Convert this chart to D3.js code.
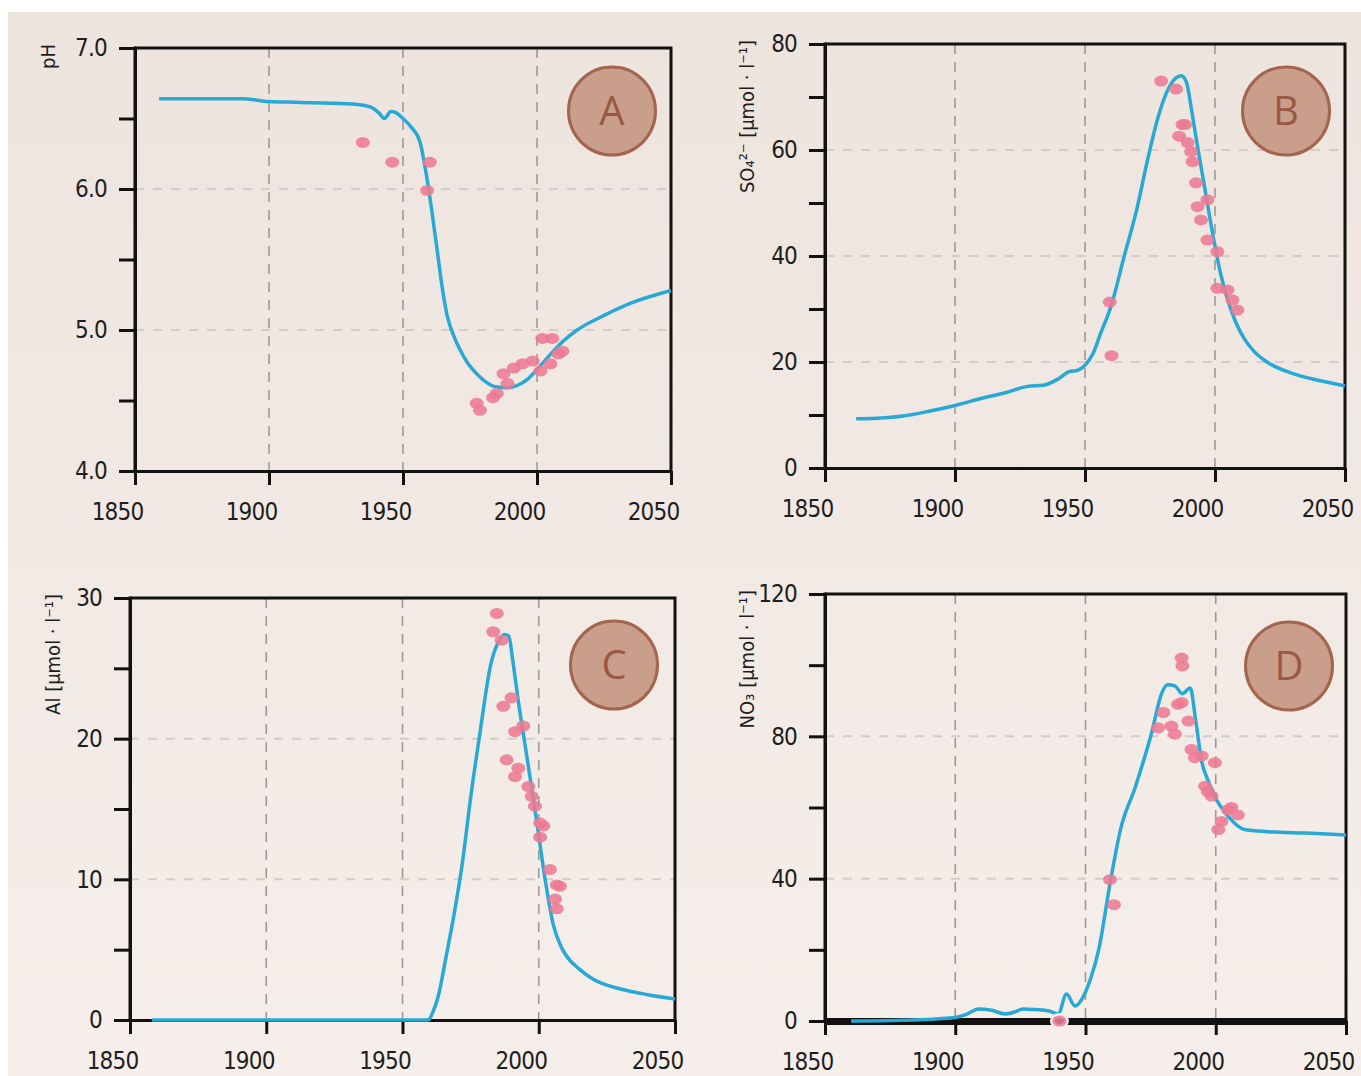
<!DOCTYPE html>
<html><head><meta charset="utf-8">
<script src="https://cdnjs.cloudflare.com/ajax/libs/d3/7.8.5/d3.min.js"></script>
<style>body{margin:0;background:#fff;}svg{display:block}</style>
</head><body>
<svg id="chart" width="1361" height="1076"></svg>
<script>
// ---------- data ----------
const xTickYears = [1850, 1900, 1950, 2000, 2050];
const gridYears = [1900, 1950, 2000];

// Panel A: pH
const phModel = [[1859,6.64],[1890,6.64],[1900,6.62],[1910,6.615],[1920,6.61],[1933,6.60],[1938,6.58],[1941,6.54],[1943,6.50],[1945.5,6.55],[1947.5,6.54],[1950,6.50],[1953,6.44],[1956.4,6.33],[1958,6.18],[1959.8,5.97],[1962.3,5.63],[1964.8,5.28],[1966.5,5.10],[1968.5,4.98],[1971,4.87],[1974,4.77],[1977.5,4.69],[1981,4.63],[1985,4.595],[1989,4.59],[1993,4.61],[1996.4,4.65],[2000,4.72],[2004.7,4.82],[2009.7,4.92],[2015,5.00],[2024.7,5.10],[2035,5.19],[2050,5.28]];
const phObs = [[1935,6.33],[1946,6.19],[1960,6.19],[1959,5.99],[1977.5,4.48],[1978.7,4.43],[1983.6,4.52],[1985,4.55],[1987.5,4.69],[1989,4.62],[1991.4,4.73],[1994.6,4.76],[1998.4,4.78],[2001.3,4.71],[2002,4.94],[2005.7,4.94],[2005,4.76],[2008,4.83],[2009.5,4.85]];
const phTicks = [4, 5, 6, 7];
const phMinor = [4.5, 5.5, 6.5];
const phGrid = [5, 6];

// Panel B: SO4
const so4Model = [[1862,9.3],[1870,9.4],[1880,9.8],[1890,10.7],[1900,11.8],[1910,13.1],[1920,14.3],[1928,15.4],[1934,15.6],[1940,16.9],[1944,18.2],[1947,18.4],[1950,19.4],[1953,21.5],[1956,25.4],[1960,30.5],[1965,39.8],[1970,49],[1974,58],[1978,66],[1982,71.5],[1985,73.6],[1987,74],[1989,72.8],[1991,67.5],[1993,61.5],[1996,53],[1999,44.5],[2002,37],[2005,31.5],[2008,27.5],[2011,24.6],[2015,22],[2020,20],[2030,17.8],[2040,16.5],[2050,15.5]];
const so4Obs = [[1979.3,73],[1985,71.5],[1987.5,64.8],[1986.2,62.6],[1988.5,64.8],[1989.5,61.4],[1990.8,59.7],[1991.4,57.8],[1992.7,53.8],[1997.1,50.6],[1993.3,49.3],[1994.6,46.8],[1997.1,43],[2000.9,40.8],[2000.9,33.9],[2004.8,33.6],[2006.7,31.7],[2008.6,29.8],[1959.5,31.3],[1960.2,21.2]];
const so4Ticks = [0, 20, 40, 60, 80];
const so4Minor = [10, 30, 50, 70];
const so4Grid = [20, 40, 60];

// Panel C: Al
const alModel = [[1858,0],[1900,0],[1959.5,0],[1961,0.5],[1963,1.6],[1966,4.5],[1969,7.6],[1972,11.2],[1975,15.8],[1978.5,20.5],[1982.3,25.2],[1985,26.8],[1987.5,27.4],[1989,27.3],[1990.5,25.5],[1992.4,22.8],[1995.5,18.9],[1999.2,14.2],[2002.5,9.8],[2005.3,6.8],[2008,5.3],[2010,4.6],[2015,3.6],[2020,2.9],[2030,2.2],[2040,1.8],[2050,1.5]];
const alObs = [[1984.6,28.9],[1983.3,27.6],[1986.4,27.0],[1990,22.9],[1987,22.3],[1994.3,20.9],[1991.3,20.5],[1988.2,18.5],[1992.5,17.9],[1991.3,17.3],[1996.2,16.6],[1997.4,15.9],[1998.6,15.2],[2000.5,14.0],[2001.7,13.8],[2000.5,13.0],[2004.1,10.7],[2006.6,9.6],[2007.8,9.5],[2006,8.6],[2006.6,7.9]];
const alTicks = [0, 10, 20, 30];
const alMinor = [5, 15, 25];
const alGrid = [10, 20];

// Panel D: NO3
const no3Model = [[1860,0],[1880,0.2],[1899,0.9],[1904,1.8],[1909,3.4],[1914,3.0],[1919,2.0],[1923,2.6],[1926,3.4],[1931,3.2],[1936,2.8],[1939.5,2.0],[1942.7,7.6],[1946,4.2],[1949.4,7.2],[1952,12],[1955.2,20.5],[1959.5,39],[1963.5,54],[1969,65.5],[1975.4,81],[1979.2,92],[1981.5,94.5],[1984.3,94.2],[1987.2,92],[1990.2,93.6],[1992.3,84.5],[1994.6,73],[1997.1,67.5],[1999.7,63],[2004.8,57.5],[2011,53.8],[2020,53.2],[2035,52.8],[2050,52.3]];
const no3Obs = [[1986.9,102],[1987.2,99.8],[1986.9,89.5],[1985.5,89],[1979.9,86.7],[1977.9,82.4],[1983,82.9],[1984.3,80.6],[1989.5,84.3],[1990.7,76.3],[1992,74],[1994.6,74.5],[1999.7,72.6],[1995.9,66],[1997,64.5],[1998.4,63.2],[2002.2,56.1],[2001,53.8],[2004.7,59.3],[2008.5,57.9],[2006,60],[1959.4,39.7],[1960.9,32.7],[1940,0]];
const no3Ticks = [0, 40, 80, 120];
const no3Minor = [20, 60, 100];
const no3Grid = [40, 80];

const panelLetters = ["A", "B", "C", "D"];

// ---------- layout ----------
const panels = [
  {letter: panelLetters[0], left: 135, right: 671, top: 48, bottom: 471, yDomain: [4, 7], ticks: phTicks, minor: phMinor, grid: phGrid, fmt: d3.format(".1f"), model: phModel, obs: phObs, title: "pH", titleX: 55, cx: 612, cy: 111, xAxisW: 3},
  {letter: panelLetters[1], left: 825, right: 1345, top: 44, bottom: 468, yDomain: [0, 80], ticks: so4Ticks, minor: so4Minor, grid: so4Grid, fmt: d3.format("d"), model: so4Model, obs: so4Obs, title: "SO₄²⁻ [µmol · l⁻¹]", titleX: 754, cx: 1286, cy: 111, xAxisW: 3},
  {letter: panelLetters[2], left: 130, right: 675, top: 598, bottom: 1020, yDomain: [0, 30], ticks: alTicks, minor: alMinor, grid: alGrid, fmt: d3.format("d"), model: alModel, obs: alObs, title: "Al [µmol · l⁻¹]", titleX: 60, cx: 614, cy: 665, xAxisW: 3},
  {letter: panelLetters[3], left: 825, right: 1346, top: 594, bottom: 1021, yDomain: [0, 120], ticks: no3Ticks, minor: no3Minor, grid: no3Grid, fmt: d3.format("d"), model: no3Model, obs: no3Obs, title: "NO₃ [µmol · l⁻¹]", titleX: 754, cx: 1289, cy: 666, xAxisW: 7}
];

const BG_TOP = "#eee4de", BG_BOT = "#f5eeea";
const svg = d3.select("#chart");
const defs = svg.append("defs");
const grad = defs.append("linearGradient").attr("id", "bg").attr("x1", 0).attr("y1", 0).attr("x2", 0).attr("y2", 1);
grad.append("stop").attr("offset", "0%").attr("stop-color", BG_TOP);
grad.append("stop").attr("offset", "100%").attr("stop-color", BG_BOT);
svg.append("rect").attr("x", 8).attr("y", 12).attr("width", 1353).attr("height", 1064).attr("fill", "url(#bg)");

const FONT = "'DejaVu Sans Condensed', 'DejaVu Sans', sans-serif";

panels.forEach(p => {
  const g = svg.append("g");
  const x = d3.scaleLinear().domain([1850, 2050]).range([p.left, p.right]);
  const y = d3.scaleLinear().domain(p.yDomain).range([p.bottom, p.top]);

  // grid
  g.selectAll("line.hg").data(p.grid).join("line").attr("class", "hg")
    .attr("x1", p.left).attr("x2", p.right).attr("y1", d => y(d)).attr("y2", d => y(d))
    .attr("stroke", "#d3ccc8").attr("stroke-width", 2).attr("stroke-dasharray", "9,9");
  g.selectAll("line.vg").data(gridYears).join("line").attr("class", "vg")
    .attr("x1", d => x(d)).attr("x2", d => x(d)).attr("y1", p.top).attr("y2", p.bottom)
    .attr("stroke", "#9e9a98").attr("stroke-width", 1.6).attr("stroke-dasharray", "10,8");

  // frame top & right
  g.append("path").attr("d", `M${p.left},${p.top}H${p.right}V${p.bottom}`)
    .attr("fill", "none").attr("stroke", "#111").attr("stroke-width", 3);

  // y axis
  const ya = g.append("g").attr("transform", `translate(${p.left},0)`)
    .call(d3.axisLeft(y).tickValues(p.ticks).tickFormat(p.fmt).tickSize(16).tickPadding(12).tickSizeOuter(0));
  const yam = g.append("g").attr("transform", `translate(${p.left},0)`)
    .call(d3.axisLeft(y).tickValues(p.minor).tickFormat("").tickSize(16).tickSizeOuter(0));
  // x axis
  const xa = g.append("g").attr("transform", `translate(0,${p.bottom})`)
    .call(d3.axisBottom(x).tickValues(xTickYears).tickFormat(d3.format("d")).tickSize(14).tickSizeOuter(0));

  [ya, yam, xa].forEach(a => {
    a.select(".domain").attr("stroke", "#111").attr("stroke-width", 3);
    a.selectAll(".tick line").attr("stroke", "#111").attr("stroke-width", 3);
    a.selectAll(".tick text").attr("fill", "#1e1e1e").attr("font-family", FONT)
      .attr("font-size", 24).attr("letter-spacing", -0.8);
  });
  ya.select(".domain").attr("d", `M0,${p.top - 1.5}V${p.bottom + 1.5}`);
  xa.select(".domain").attr("stroke-width", p.xAxisW);
  xa.selectAll(".tick text").attr("dx", -18).attr("dy", 0).attr("y", 49);

  // axis title
  g.append("text").attr("transform", `translate(${p.titleX},${p.top - 4}) rotate(-90)`)
    .attr("text-anchor", "end").attr("font-family", FONT).attr("font-size", 20)
    .attr("fill", "#1e1e1e").text(p.title);

  // model line
  g.append("path").datum(p.model)
    .attr("d", d3.line().x(d => x(d[0])).y(d => y(d[1])).curve(d3.curveMonotoneX))
    .attr("fill", "none").attr("stroke", "#28a8d5").attr("stroke-width", 3.5)
    .attr("stroke-linejoin", "round");

  // observations
  g.selectAll("ellipse.obs").data(p.obs).join("ellipse").attr("class", "obs")
    .attr("cx", d => x(d[0])).attr("cy", d => y(d[1])).attr("rx", 7).attr("ry", 5.5)
    .attr("fill", "#ec7a93").attr("fill-opacity", 0.88)
    .attr("stroke", d => d[1] === p.yDomain[0] ? BG_BOT : "none").attr("stroke-width", 5)
    .attr("paint-order", "stroke");

  // panel letter
  g.append("ellipse").attr("cx", p.cx).attr("cy", p.cy).attr("rx", 43.5).attr("ry", 44)
    .attr("fill", "#c99f8c").attr("stroke", "#a5644e").attr("stroke-width", 3);
  g.append("text").attr("x", p.cx).attr("y", p.cy + 14).attr("text-anchor", "middle")
    .attr("font-family", "'Open Sans', 'Liberation Sans', sans-serif").attr("font-size", 40)
    .attr("fill", "#9a5843").text(p.letter);
});
</script>
</body></html>
